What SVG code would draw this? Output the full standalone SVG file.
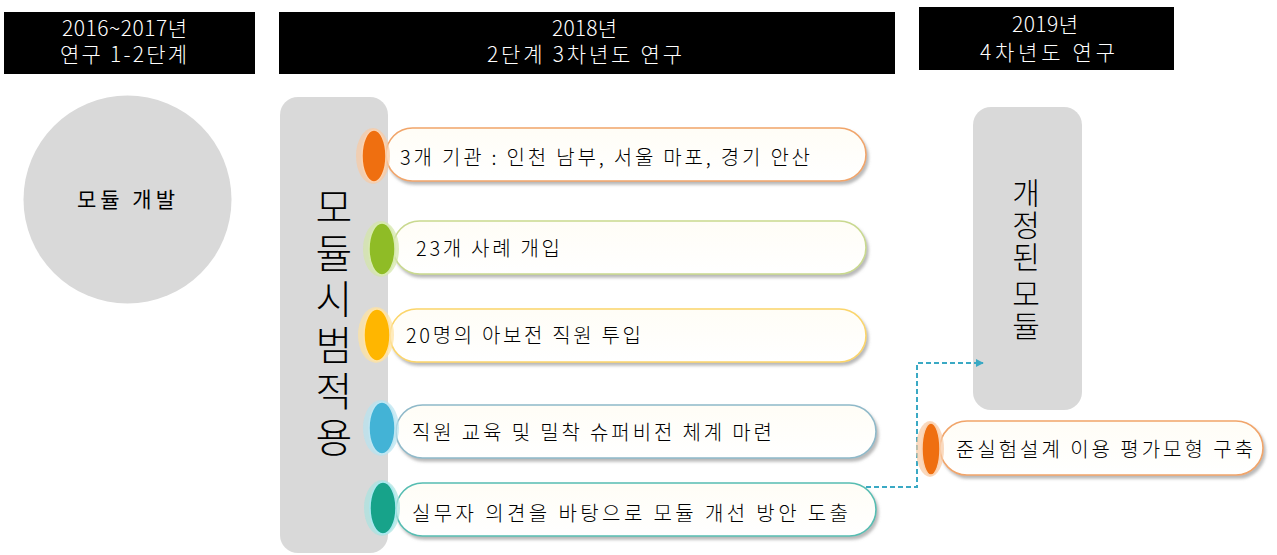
<svg xmlns="http://www.w3.org/2000/svg" width="1277" height="555" viewBox="0 0 1277 555">
<style>
.hdr{fill:#000}
.ht{fill:#fff;font-family:"Noto Sans CJK KR","Noto Sans",sans-serif;font-size:21px;font-weight:300}
.gray{fill:#d9d9d9}
.pt{fill:#000;font-family:"Noto Sans CJK KR","Noto Sans",sans-serif;font-size:20px;font-weight:300}
.big{fill:#000;font-family:"Noto Sans CJK KR","Noto Sans",sans-serif;font-weight:300;text-anchor:middle}
.pill{fill:url(#pg);stroke-width:1.6}
.conn{fill:none;stroke:#3aa9c4;stroke-width:2;stroke-dasharray:5 3}
</style>
<defs>
<filter id="sh" x="-10%" y="-30%" width="120%" height="170%">
<feDropShadow dx="2" dy="3" stdDeviation="1.6" flood-color="#7f7f7f" flood-opacity="0.55"/>
</filter>
<linearGradient id="pg" x1="0" y1="0" x2="0" y2="1">
<stop offset="0" stop-color="#fffdf6"/>
<stop offset="1" stop-color="#ffffff"/>
</linearGradient>
<marker id="arr" viewBox="0 0 10 10" refX="9" refY="5" markerWidth="4" markerHeight="4" orient="auto">
<path d="M0,0 L10,5 L0,10 z" fill="#3aa9c4"/>
</marker>
</defs>

<g id="header1"><rect class="hdr" x="4" y="12" width="251" height="62"/><text class="ht" x="62" y="36" textLength="125" lengthAdjust="spacing">2016~2017년</text><text class="ht" x="60" y="62" textLength="127" lengthAdjust="spacing">연구 1-2단계</text></g>
<g id="header2"><rect class="hdr" x="279" y="12" width="616" height="62"/><text class="ht" x="552" y="36" textLength="65" lengthAdjust="spacing">2018년</text><text class="ht" x="487" y="62" textLength="195" lengthAdjust="spacing">2단계 3차년도 연구</text></g>
<g id="header3"><rect class="hdr" x="919" y="7" width="255" height="63"/><text class="ht" x="1012" y="32" textLength="66" lengthAdjust="spacing">2019년</text><text class="ht" x="980" y="60" textLength="135" lengthAdjust="spacing">4차년도 연구</text></g>

<g id="module-dev"><circle class="gray" cx="127.5" cy="199.5" r="104"/><text class="pt" x="77" y="207" textLength="98" lengthAdjust="spacing" style="font-size:21px;font-weight:400">모듈 개발</text></g>

<g id="pilot"><rect class="gray" x="280" y="97" width="108" height="456" rx="18"/>
<text class="big" x="334" font-size="40"><tspan x="334" y="222">모</tspan><tspan x="334" y="268">듈</tspan><tspan x="334" y="314">시</tspan><tspan x="334" y="360">범</tspan><tspan x="334" y="406">적</tspan><tspan x="334" y="452">용</tspan></text></g>

<g id="revised"><rect class="gray" x="973" y="107" width="109" height="303" rx="18"/>
<text class="big" x="1026" font-size="30"><tspan x="1026" y="204">개</tspan><tspan x="1026" y="236">정</tspan><tspan x="1026" y="268">된</tspan><tspan x="1026" y="305">모</tspan><tspan x="1026" y="337">듈</tspan></text></g>

<g id="connectors"><path class="conn" d="M850 487 H917 V363 H983" marker-end="url(#arr)"/></g>

<g id="item1"><rect class="pill" x="386" y="128" width="480" height="53" rx="26.5" stroke="#f1a56a" filter="url(#sh)"/>
<ellipse cx="373" cy="156" rx="17" ry="28" fill="#f8c9a3" opacity="0.7"/><ellipse cx="374" cy="156" rx="12" ry="26" fill="#ef6f10" stroke="#fbd2b0" stroke-width="1.5"/>
<text class="pt" x="400" y="165" textLength="410" lengthAdjust="spacing">3개 기관 : 인천 남부, 서울 마포, 경기 안산</text></g>

<g id="item2"><rect class="pill" x="393" y="221" width="473" height="53" rx="26.5" stroke="#c9d98f" filter="url(#sh)"/>
<ellipse cx="381" cy="249" rx="18" ry="28" fill="#d3e6a6" opacity="0.7"/><ellipse cx="382" cy="249" rx="13" ry="26" fill="#8fbc26" stroke="#d8eab0" stroke-width="1.5"/>
<text class="pt" x="416" y="256" textLength="144" lengthAdjust="spacing">23개  사례 개입</text></g>

<g id="item3"><rect class="pill" x="390" y="309" width="476" height="53" rx="26.5" stroke="#fbd56a" filter="url(#sh)"/>
<ellipse cx="376" cy="335" rx="18" ry="28" fill="#ffe2a0" opacity="0.7"/><ellipse cx="377" cy="335" rx="13" ry="26" fill="#ffb600" stroke="#ffe3a6" stroke-width="1.5"/>
<text class="pt" x="406" y="343" textLength="235" lengthAdjust="spacing">20명의  아보전 직원 투입</text></g>

<g id="item4"><rect class="pill" x="396" y="405" width="480" height="53" rx="26.5" stroke="#8fb9c9" filter="url(#sh)"/>
<ellipse cx="381" cy="428" rx="18" ry="28" fill="#b7e2ef" opacity="0.7"/><ellipse cx="382" cy="428" rx="13" ry="26" fill="#43b3d6" stroke="#bfe6f2" stroke-width="1.5"/>
<text class="pt" x="412" y="440" textLength="360" lengthAdjust="spacing">직원 교육 및 밀착 슈퍼비전 체계 마련</text></g>

<g id="item5"><rect class="pill" x="396" y="483" width="480" height="53" rx="26.5" stroke="#56bdb2" filter="url(#sh)"/>
<ellipse cx="382" cy="508" rx="18" ry="28" fill="#a8e3df" opacity="0.7"/><ellipse cx="383" cy="508" rx="13" ry="26" fill="#17a38a" stroke="#a9e8ef" stroke-width="1.5"/>
<text class="pt" x="412" y="521" textLength="436" lengthAdjust="spacing">실무자 의견을 바탕으로 모듈 개선 방안 도출</text></g>

<g id="item6"><rect class="pill" x="940" y="421" width="323" height="54" rx="27" stroke="#f1a56a" filter="url(#sh)"/>
<ellipse cx="930" cy="449" rx="14" ry="28" fill="#f8c9a3" opacity="0.7"/><ellipse cx="931" cy="449" rx="9" ry="26" fill="#ef6f10" stroke="#fbd2b0" stroke-width="1.5"/>
<text class="pt" x="956" y="457" textLength="297" lengthAdjust="spacing">준실험설계 이용 평가모형 구축</text></g>
</svg>
